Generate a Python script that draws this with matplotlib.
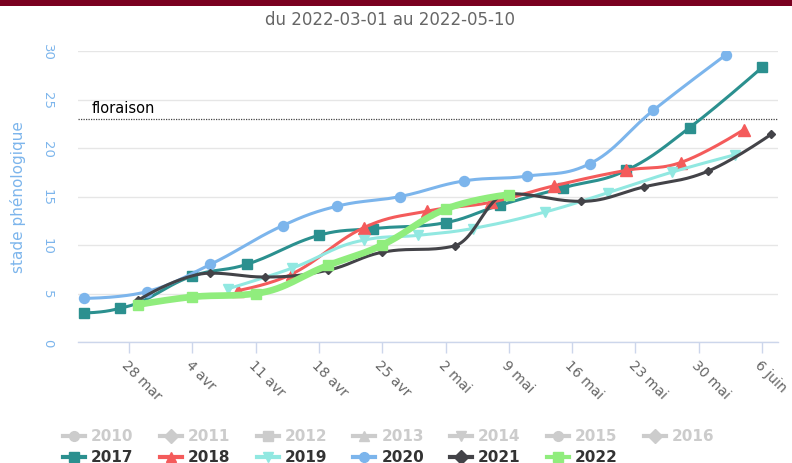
import numpy as np
import matplotlib
matplotlib.use('Agg')
import matplotlib.pyplot as plt
import matplotlib.dates as mdates
from matplotlib.lines import Line2D
from matplotlib.patches import Rectangle

# ---------------- data ----------------
title = "du 2022-03-01 au 2022-05-10"
y_label = "stade phénologique"
threshold_label = "floraison"
threshold_value = 23

tick_dates = ['2022-03-28', '2022-04-04', '2022-04-11', '2022-04-18', '2022-04-25',
              '2022-05-02', '2022-05-09', '2022-05-16', '2022-05-23', '2022-05-30',
              '2022-06-06']
tick_labels = ['28 mar', '4 avr', '11 avr', '18 avr', '25 avr', '2 mai', '9 mai',
               '16 mai', '23 mai', '30 mai', '6 juin']
y_ticks = [0, 5, 10, 15, 20, 25, 30]

dates_2017 = ['2022-03-23', '2022-03-27', '2022-04-04', '2022-04-10', '2022-04-18', '2022-04-24',
              '2022-05-02', '2022-05-08', '2022-05-15', '2022-05-22', '2022-05-29', '2022-06-06']
values_2017 = [3.0, 3.5, 6.8, 8.0, 11.0, 11.7, 12.3, 14.1, 15.9, 17.7, 22.1, 28.3]

dates_2018 = ['2022-04-09', '2022-04-15', '2022-04-23', '2022-04-30', '2022-05-07',
              '2022-05-14', '2022-05-22', '2022-05-28', '2022-06-04']
values_2018 = [5.3, 7.0, 11.8, 13.5, 14.4, 16.1, 17.7, 18.5, 21.9]

dates_2019 = ['2022-04-08', '2022-04-15', '2022-04-23', '2022-04-29', '2022-05-05',
              '2022-05-13', '2022-05-20', '2022-05-27', '2022-06-03']
values_2019 = [5.5, 7.6, 10.5, 11.0, 11.7, 13.4, 15.4, 17.5, 19.3]

dates_2020 = ['2022-03-23', '2022-03-30', '2022-04-06', '2022-04-14', '2022-04-20', '2022-04-27',
              '2022-05-04', '2022-05-11', '2022-05-18', '2022-05-25', '2022-06-02']
values_2020 = [4.5, 5.2, 8.0, 12.0, 14.0, 15.0, 16.6, 17.1, 18.4, 23.9, 29.6]

dates_2021 = ['2022-03-29', '2022-04-06', '2022-04-12', '2022-04-19', '2022-04-25', '2022-05-03',
              '2022-05-09', '2022-05-17', '2022-05-24', '2022-05-31', '2022-06-07']
values_2021 = [4.3, 7.1, 6.7, 7.4, 9.25, 9.9, 15.3, 14.5, 16.0, 17.6, 21.4]

dates_2022 = ['2022-03-29', '2022-04-04', '2022-04-11', '2022-04-19', '2022-04-25',
              '2022-05-02', '2022-05-09']
values_2022 = [3.85, 4.65, 5.0, 7.9, 10.0, 13.7, 15.2]

hidden_years = ['2010', '2011', '2012', '2013', '2014', '2015', '2016']
visible_years = ['2017', '2018', '2019', '2020', '2021', '2022']

# ---------------- styles ----------------
W, H = 792, 464
styles = {
    '2017': dict(color='#2b908f', marker='s', ms=7.0, lw=2.2),
    '2018': dict(color='#f45b5b', marker='^', ms=8.0, lw=2.2),
    '2019': dict(color='#91e8e1', marker='v', ms=7.0, lw=2.2),
    '2020': dict(color='#7cb5ec', marker='o', ms=7.2, lw=2.2),
    '2021': dict(color='#434348', marker='D', ms=4.5, lw=2.2),
    '2022': dict(color='#90ed7d', marker='s', ms=7.8, lw=4.8),
}
hidden_markers = ['o', 'D', 's', '^', 'v', 'o', 'D']

series = {
    '2017': (dates_2017, values_2017),
    '2018': (dates_2018, values_2018),
    '2019': (dates_2019, values_2019),
    '2020': (dates_2020, values_2020),
    '2021': (dates_2021, values_2021),
    '2022': (dates_2022, values_2022),
}


def hc_spline(xs, ys, smoothing=1.5, nseg=30):
    """Highcharts-like spline through points, sampled."""
    n = len(xs)
    denom = smoothing + 1
    left = [(xs[i], ys[i]) for i in range(n)]
    right = [(xs[i], ys[i]) for i in range(n)]
    for i in range(1, n - 1):
        px, py = xs[i], ys[i]
        lx, ly = xs[i - 1], ys[i - 1]
        nx, ny = xs[i + 1], ys[i + 1]
        lcx = (smoothing * px + lx) / denom
        lcy = (smoothing * py + ly) / denom
        rcx = (smoothing * px + nx) / denom
        rcy = (smoothing * py + ny) / denom
        corr = 0
        if rcx != lcx:
            corr = (rcy - lcy) * (rcx - px) / (rcx - lcx) + py - rcy
        lcy += corr
        rcy += corr
        if lcy > ly and lcy > py:
            lcy = max(ly, py)
            rcy = 2 * py - lcy
        elif lcy < ly and lcy < py:
            lcy = min(ly, py)
            rcy = 2 * py - lcy
        if rcy > ny and rcy > py:
            rcy = max(ny, py)
            lcy = 2 * py - rcy
        elif rcy < ny and rcy < py:
            rcy = min(ny, py)
            lcy = 2 * py - rcy
        left[i] = (lcx, lcy)
        right[i] = (rcx, rcy)
    outx, outy = [xs[0]], [ys[0]]
    t = np.linspace(0, 1, nseg)[1:]
    for i in range(1, n):
        p0 = np.array([xs[i - 1], ys[i - 1]])
        p1 = np.array(right[i - 1])
        p2 = np.array(left[i])
        p3 = np.array([xs[i], ys[i]])
        for tt in t:
            b = ((1 - tt) ** 3) * p0 + 3 * ((1 - tt) ** 2) * tt * p1 + 3 * (1 - tt) * tt ** 2 * p2 + tt ** 3 * p3
            outx.append(b[0])
            outy.append(b[1])
    return np.array(outx), np.array(outy)


def to_num(ds):
    return mdates.datestr2num(ds)


fig = plt.figure(figsize=(W / 100, H / 100), dpi=100)
fig.patch.set_facecolor('white')

left_px, right_px, top_px, bottom_px = 78, 778, 52, 343
ax = fig.add_axes([left_px / W, 1 - bottom_px / H, (right_px - left_px) / W, (bottom_px - top_px) / H])

# top dark red bar
fig.add_artist(Rectangle((0, 1 - 7 / H), 1, 7 / H, transform=fig.transFigure,
                         facecolor='#7a0020', edgecolor='none'))

for z, year in enumerate(visible_years):
    ds, vs = series[year]
    xn = to_num(ds)
    st = styles[year]
    sx, sy = hc_spline(list(xn), list(vs))
    ax.plot(sx, sy, color=st['color'], lw=st['lw'], solid_capstyle='round',
            solid_joinstyle='round', zorder=3 + z)
    ax.plot(xn, vs, linestyle='none', marker=st['marker'], ms=st['ms'],
            color=st['color'], mec=st['color'], zorder=3 + z)

# threshold line
ax.axhline(threshold_value, color='#444444', lw=0.9, linestyle=(0, (1, 1)), zorder=2)
ax.text((92 - left_px) / (right_px - left_px), threshold_value + 0.45, threshold_label,
        transform=ax.get_yaxis_transform(), fontsize=10.5, color='#000000',
        ha='left', va='bottom', zorder=10)

# axes styling
x0 = to_num('2022-03-28') - (129 - left_px) / 9.04
x1 = to_num('2022-06-06') + (right_px - 762) / 9.04
ax.set_xlim(x0, x1)
ax.set_ylim(0, 30)
ax.set_yticks(y_ticks)
ax.set_yticklabels([str(v) for v in y_ticks], rotation=-90, va='center', ha='center')
ax.tick_params(axis='y', length=0, pad=22, labelsize=9.5, labelcolor='#7cb5ec')
ax.set_xticks(to_num(tick_dates))
ax.set_xticklabels(tick_labels, rotation=-45, ha='left', va='top', rotation_mode='anchor')
ax.tick_params(axis='x', length=8, width=1, color='#ccd6eb', labelsize=10,
               labelcolor='#666666', pad=3)
for lbl in ax.get_xticklabels():
    lbl.set_rotation_mode('anchor')

ax.grid(axis='y', color='#e6e6e6', lw=1)
ax.set_axisbelow(True)
for s in ['top', 'right', 'left']:
    ax.spines[s].set_visible(False)
ax.spines['bottom'].set_color('#ccd6eb')
ax.spines['bottom'].set_linewidth(1)

fig.text(18 / W, 1 - 197 / H, y_label, rotation=90, ha='center', va='center',
         color='#7cb5ec', fontsize=11)
fig.text(390 / W, 1 - 20 / H, title, ha='center', va='center', color='#666666', fontsize=12)

# legend drawn manually
all_years = hidden_years + visible_years
for i, year in enumerate(all_years):
    row, col = divmod(i, 7)
    px = 63 + col * 96.8
    py = 437 + row * 21
    if year in styles:
        c = styles[year]['color']
        mk = styles[year]['marker']
        tc = '#333333'
    else:
        c = '#cccccc'
        mk = hidden_markers[i]
        tc = '#cccccc'
    fy = 1 - py / H
    fig.add_artist(Line2D([px / W, (px + 22) / W], [fy, fy], transform=fig.transFigure,
                          color=c, lw=3.0, marker=None))
    fig.add_artist(Line2D([(px + 11) / W], [fy], transform=fig.transFigure,
                          color=c, marker=mk, ms=7, linestyle='none'))
    fig.text((px + 28) / W, fy, year, ha='left', va='center', color=tc,
             fontsize=11, fontweight='bold')

fig.savefig('out.png', dpi=100, facecolor='white')
